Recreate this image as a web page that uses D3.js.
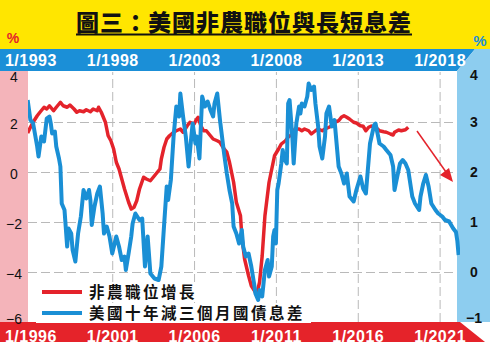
<!DOCTYPE html>
<html>
<head>
<meta charset="utf-8">
<script src="https://cdn.jsdelivr.net/npm/d3@7"></script>
<style>
  body { margin: 0; background: #fff; }
  svg { display: block; }
</style>
</head>
<body>
<script>
// 圖表文字
var title = "圖三：美國非農職位與長短息差";
var legendNames = ["非農職位增長", "美國十年減三個月國債息差"];

// 軸刻度
var topTicks = ["1993-01", "1998-01", "2003-01", "2008-01", "2013-01", "2018-01"];
var bottomTicks = ["1996-01", "2001-01", "2006-01", "2011-01", "2016-01", "2021-01"];
var leftTicks = [4, 2, 0, -2, -4, -6];
var rightTicks = [4, 3, 2, 1, 0, -1];

// 美國十年減三個月國債息差 (右軸, 上方時間軸)
var spreadDates = [
  "1992-11","1993-01","1993-03","1993-06","1993-07","1993-09","1993-11",
  "1994-01","1994-03","1994-04","1994-05","1994-07","1994-08","1994-10","1994-11","1994-12",
  "1995-02","1995-04","1995-05","1995-07","1995-08","1995-10","1995-12",
  "1996-02","1996-04","1996-06","1996-08","1996-09","1996-10","1996-12",
  "1997-02","1997-04","1997-06","1997-07","1997-09","1997-11",
  "1998-01","1998-04","1998-06","1998-08","1998-10","1998-11",
  "1999-01","1999-03","1999-04","1999-06","1999-09","1999-11",
  "2000-01","2000-03","2000-04","2000-05","2000-08","2000-11",
  "2001-01","2001-03","2001-05","2001-06","2001-08","2001-10","2001-12",
  "2002-02","2002-03","2002-05","2002-07","2002-09","2002-11","2002-12",
  "2003-02","2003-03","2003-05","2003-07","2003-09","2003-11",
  "2004-01","2004-03","2004-04","2004-06","2004-08","2004-11",
  "2005-01","2005-03","2005-05","2005-06","2005-08","2005-10","2005-12",
  "2006-01","2006-03","2006-05","2006-07","2006-09","2006-10","2006-12",
  "2007-01","2007-03","2007-05","2007-07","2007-08","2007-10","2007-11","2007-12",
  "2008-01","2008-02","2008-03","2008-05","2008-06","2008-07","2008-09","2008-10","2008-11",
  "2009-01","2009-02","2009-04","2009-06","2009-07","2009-08","2009-10","2009-12",
  "2010-01","2010-03","2010-05","2010-06","2010-08","2010-09","2010-11",
  "2011-01","2011-02","2011-04","2011-06","2011-08","2011-11",
  "2012-01","2012-03","2012-05","2012-07","2012-10","2012-12",
  "2013-03","2013-05","2013-07","2013-10",
  "2014-01","2014-02","2014-04","2014-05","2014-08","2014-10",
  "2015-01","2015-03","2015-04","2015-06","2015-08","2015-10","2015-12",
  "2016-02","2016-05","2016-07","2016-10","2016-11",
  "2017-01","2017-03","2017-05","2017-07","2017-10","2017-12",
  "2018-03","2018-05","2018-08","2018-11",
  "2019-01","2019-02","2019-03"
];
var spreadValues = [
  3.44,3.04,2.98,2.51,2.31,2.71,2.61,
  3.07,3.11,2.97,2.77,2.81,2.51,2.27,2.11,1.37,
  1.24,0.51,0.87,0.77,0.44,0.21,0.77,
  1.11,1.64,1.47,1.64,1.44,0.94,1.31,
  1.57,1.71,1.17,0.77,0.91,0.71,
  0.37,0.71,0.51,0.24,0.31,0.04,
  0.37,0.71,0.97,1.17,1.04,1.07,
  0.11,0.71,0.34,-0.03,-0.13,-0.16,
  0.11,0.91,1.71,1.44,1.84,2.71,3.31,
  3.11,3.57,3.11,2.71,2.11,2.71,2.97,
  2.57,2.71,2.27,3.51,3.31,3.41,
  3.24,3.11,3.37,3.57,3.04,2.37,
  1.97,1.64,1.37,0.91,0.77,0.57,0.84,
  0.51,0.31,0.37,0.11,-0.23,-0.43,-0.56,
  -0.36,-0.49,0.04,0.24,-0.09,0.11,0.71,0.84,
  0.57,1.64,1.77,2.17,2.44,2.27,2.17,3.37,3.44,
  2.71,2.17,2.97,3.31,3.17,3.37,3.31,3.51,
  3.77,3.64,3.71,3.37,2.91,2.51,2.27,
  2.71,3.17,3.31,2.91,3.04,2.11,
  1.97,1.77,1.97,1.51,1.41,1.64,
  1.91,1.67,1.57,2.57,
  2.94,2.97,2.71,2.57,2.51,2.44,
  2.34,2.11,1.64,1.91,2.17,2.24,2.17,
  2.04,1.51,1.37,1.24,1.51,
  1.77,1.94,1.71,1.37,1.24,1.17,
  1.11,1.04,1.01,0.87,
  0.80,0.62,0.34
];

// 非農職位增長 (左軸, 下方時間軸)
var payrollDates = [
  "1995-11","1996-01","1996-03","1996-06","1996-08","1996-11",
  "1997-01","1997-03","1997-06","1997-08","1997-11",
  "1998-01","1998-04","1998-06","1998-09","1998-11",
  "1999-01","1999-04","1999-06","1999-09","1999-11",
  "2000-02","2000-03","2000-05","2000-08","2000-10","2000-12",
  "2001-02","2001-04","2001-06","2001-08","2001-10",
  "2002-01","2002-03","2002-05","2002-07","2002-09","2002-12",
  "2003-02","2003-05","2003-08","2003-12",
  "2004-01","2004-03","2004-05","2004-07","2004-10","2004-12",
  "2005-03","2005-05","2005-08","2005-10",
  "2006-01","2006-03","2006-04","2006-06","2006-08","2006-10",
  "2007-01","2007-03","2007-06","2007-08","2007-11",
  "2008-01","2008-03","2008-06","2008-08","2008-11","2008-12",
  "2009-02","2009-05","2009-07","2009-10","2009-11",
  "2010-01","2010-03","2010-05","2010-08","2010-10","2010-12",
  "2011-03","2011-05","2011-08","2011-10",
  "2012-01","2012-03","2012-06","2012-08","2012-10",
  "2013-01","2013-03","2013-06","2013-08","2013-11",
  "2014-01","2014-04","2014-06","2014-08","2014-11",
  "2015-01","2015-03","2015-05","2015-07","2015-10","2015-12",
  "2016-03","2016-05","2016-07","2016-09","2016-11",
  "2017-03","2017-05","2017-08","2017-10",
  "2018-01","2018-03","2018-04","2018-07","2018-09","2018-12",
  "2019-02"
];
var payrollValues = [
  1.56,1.79,1.99,2.25,2.39,2.59,
  2.52,2.65,2.45,2.59,2.79,
  2.65,2.59,2.68,2.52,2.39,
  2.45,2.41,2.49,2.41,2.52,
  2.45,2.59,2.39,1.99,1.45,1.25,
  0.92,0.39,0.12,-0.28,-0.68,
  -1.21,-1.48,-1.41,-1.15,-0.68,-0.21,
  -0.28,-0.35,-0.15,0.12,
  0.52,0.99,1.32,1.45,1.59,1.65,
  1.72,1.59,1.85,1.99,
  1.92,2.12,2.19,1.85,1.65,1.65,
  1.45,1.32,1.25,1.19,0.92,
  0.79,0.39,-0.41,-1.21,-1.75,-2.55,
  -3.48,-4.15,-4.55,-4.81,-4.88,
  -4.41,-3.35,-1.75,-0.41,0.12,0.65,
  0.92,1.12,1.25,1.39,
  1.52,1.72,1.72,1.65,1.72,
  1.65,1.52,1.65,1.72,1.65,
  1.72,1.79,1.85,1.99,2.05,
  2.19,2.25,2.19,2.12,1.99,1.96,
  1.85,1.83,1.65,1.79,1.84,
  1.75,1.65,1.61,1.59,
  1.52,1.48,1.59,1.68,1.65,1.69,
  1.79
];

var W = 490, H = 352;
var plot = {left: 28, right: 457, top: 72, bottom: 322};
var RED = "#e4232b", BLUE = "#1a8fd5";
var numFont = "'Liberation Sans', Arial, sans-serif";
var cjkFont = "'Noto Sans CJK TC', 'Noto Sans CJK SC', sans-serif";

var parse = d3.timeParse("%Y-%m");

var spread = spreadDates.map((d, i) => ({date: parse(d), value: spreadValues[i]}));
var payroll = payrollDates.map((d, i) => ({date: parse(d), value: payrollValues[i]}));

var xTop = d3.scaleTime()
    .domain([parse("1993-01"), parse("2018-01")])
    .range([30.4, 439.6]);
var xBottom = d3.scaleTime()
    .domain([parse("1996-01"), parse("2021-01")])
    .range([30.4, 439.6]);
var yLeft = d3.scaleLinear().domain([-6, 4]).range([plot.bottom, plot.top]);
var yRight = d3.scaleLinear().domain([-1, 4]).range([plot.bottom, plot.top]);

var svg = d3.select("body").append("svg")
    .attr("width", W)
    .attr("height", H)
    .attr("viewBox", `0 0 ${W} ${H}`);

svg.append("rect").attr("width", W).attr("height", H).attr("fill", "#fff");

// 標題底色
svg.append("rect").attr("x", 0).attr("y", 0).attr("width", W).attr("height", 49)
    .attr("fill", "#ffe600");

// 上方藍色時間帶
svg.append("path")
    .attr("d", "M0,49 L475,49 L457,71 L0,71 Z")
    .attr("fill", "#1b8fd7");
// 右側淺藍軸帶
svg.append("path")
    .attr("d", `M475,49 L${W},49 L${W},322 L457,322 L457,71 Z`)
    .attr("fill", "#8dcdef");
// 左側粉紅軸帶
svg.append("rect").attr("x", 0).attr("y", 71).attr("width", plot.left).attr("height", 251)
    .attr("fill", "#f4b4ba");
// 下方紅色時間帶
svg.append("path")
    .attr("d", "M0,322 L460,322 L485,342 L0,342 Z")
    .attr("fill", "#e5232a");

// 格線
var grid = svg.append("g").attr("class", "grid");
grid.append("g")
    .attr("transform", `translate(0,${plot.bottom})`)
    .call(d3.axisBottom(xTop)
        .tickValues(topTicks.slice(1).map(parse))
        .tickSize(-(plot.bottom - plot.top))
        .tickFormat(""));
grid.append("g")
    .attr("transform", `translate(${plot.left},0)`)
    .call(d3.axisLeft(yLeft)
        .tickValues(leftTicks.slice(1, -1))
        .tickSize(-(plot.right - plot.left))
        .tickFormat(""));
grid.selectAll(".domain").remove();
grid.selectAll("line")
    .attr("stroke", "#b9b9b9")
    .attr("stroke-width", 1)
    .attr("stroke-dasharray", "9,4");

// 圖例 (白底在線下面)
var legendRows = [292, 313];
var legendBg = svg.append("g");

// 線
svg.append("clipPath").attr("id", "clip")
  .append("rect")
    .attr("x", plot.left).attr("y", plot.top - 10)
    .attr("width", 460 - plot.left).attr("height", plot.bottom - plot.top + 10);

var lines = svg.append("g").attr("clip-path", "url(#clip)");

lines.append("path")
    .datum(payroll)
    .attr("fill", "none")
    .attr("stroke", RED)
    .attr("stroke-width", 3.5)
    .attr("stroke-linejoin", "round")
    .attr("d", d3.line().x(d => xBottom(d.date)).y(d => yLeft(d.value)));

lines.append("path")
    .datum(spread)
    .attr("fill", "none")
    .attr("stroke", BLUE)
    .attr("stroke-width", 4)
    .attr("stroke-linejoin", "round")
    .attr("d", d3.line().x(d => xTop(d.date)).y(d => yRight(d.value)));

// 上方時間軸
var topAxis = svg.append("g")
    .call(d3.axisTop(xTop)
        .tickValues(topTicks.map(parse))
        .tickFormat(d3.timeFormat("1/%Y"))
        .tickSize(0));
// 下方時間軸
var bottomAxis = svg.append("g")
    .call(d3.axisBottom(xBottom)
        .tickValues(bottomTicks.map(parse))
        .tickFormat(d3.timeFormat("1/%Y"))
        .tickSize(0));
topAxis.selectAll("text").attr("y", 60);
bottomAxis.selectAll("text").attr("y", 336.5);
[topAxis, bottomAxis].forEach(g => {
    g.select(".domain").remove();
    g.selectAll("text")
        .attr("dy", "0.36em")
        .attr("fill", "#fff")
        .style("font-family", numFont)
        .style("font-size", "16px")
        .style("font-weight", "bold")
        .style("letter-spacing", "0.5px");
});

// 左軸
var leftAxis = svg.append("g")
    .attr("transform", "translate(14,0)")
    .call(d3.axisLeft(yLeft).tickValues(leftTicks).tickSize(0).tickPadding(0)
        .tickFormat(d3.format("d")));
leftAxis.select(".domain").remove();
leftAxis.selectAll("text")
    .attr("x", 0)
    .attr("text-anchor", "middle")
    .attr("fill", "#111")
    .style("font-family", numFont)
    .style("font-size", "14px")
    .attr("y", d => d === 4 ? 5 : (d === -6 ? -3 : 2));

// 右軸
var rightAxis = svg.append("g")
    .attr("transform", "translate(474,0)")
    .call(d3.axisRight(yRight).tickValues(rightTicks).tickSize(0).tickPadding(0)
        .tickFormat(d3.format("d")));
rightAxis.select(".domain").remove();
rightAxis.selectAll("text")
    .attr("x", 0)
    .attr("text-anchor", "middle")
    .attr("fill", "#111")
    .style("font-family", numFont)
    .style("font-size", "14px")
    .style("font-weight", "bold")
    .attr("y", d => d === 4 ? 3 : (d === -1 ? -4 : 0));

// % 單位
svg.append("text").attr("x", 13).attr("y", 43)
    .attr("text-anchor", "middle")
    .attr("fill", RED)
    .style("font-family", numFont).style("font-size", "14px").style("font-weight", "bold")
    .text("%");
svg.append("text").attr("x", 480).attr("y", 46)
    .attr("text-anchor", "middle")
    .attr("fill", "#1b8fd7")
    .style("font-family", numFont).style("font-size", "15px").style("font-weight", "bold")
    .text("%");

// 標題
var titleText = svg.append("text")
    .attr("x", 244).attr("y", 31)
    .attr("text-anchor", "middle")
    .attr("fill", "#111")
    .style("font-family", cjkFont)
    .style("font-size", "23px")
    .style("font-weight", "900")
    .style("letter-spacing", "1px")
    .text(title);
var tw = titleText.node().getComputedTextLength();
svg.append("line")
    .attr("x1", 244 - tw / 2).attr("x2", 244 + tw / 2)
    .attr("y1", 34.5).attr("y2", 34.5)
    .attr("stroke", "#111").attr("stroke-width", 2);

// 圖例
var legend = svg.append("g").selectAll("g")
    .data(legendNames)
    .enter().append("g")
    .attr("transform", (d, i) => `translate(42,${legendRows[i]})`);
legend.append("line")
    .attr("x1", 0).attr("x2", 40)
    .attr("stroke", (d, i) => i === 0 ? RED : BLUE)
    .attr("stroke-width", 4);
var legendText = legend.append("text")
    .attr("x", 47).attr("dy", "0.36em")
    .attr("fill", "#111")
    .style("font-family", cjkFont)
    .style("font-size", "15.5px")
    .style("font-weight", "bold")
    .style("letter-spacing", "2.5px")
    .text(d => d);
legendText.each(function(d, i) {
    var len = this.getComputedTextLength();
    legendBg.append("rect")
        .attr("x", 36).attr("y", legendRows[i] - 10)
        .attr("width", 47 + len + 12).attr("height", 20)
        .attr("fill", "#fff");
});

// 紅色箭頭
svg.append("line")
    .attr("x1", 417).attr("y1", 131).attr("x2", 446).attr("y2", 172)
    .attr("stroke", RED).attr("stroke-width", 1.5);
svg.append("path")
    .attr("d", "M453,182 L440,175 L449,168 Z")
    .attr("fill", RED);
</script>
</body>
</html>
